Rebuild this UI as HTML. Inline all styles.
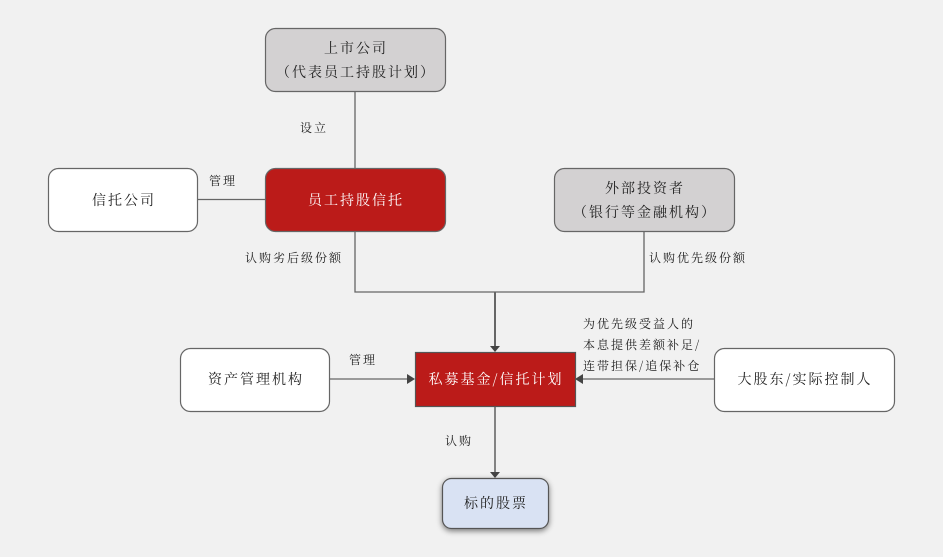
<!DOCTYPE html>
<html><head><meta charset="utf-8"><style>
html,body{margin:0;padding:0;background:#f1f1f1;}
svg{display:block;}
text{font-family:"Noto Serif CJK SC","Liberation Serif",serif;letter-spacing:2px;}
</style></head><body>
<svg width="943" height="557" viewBox="0 0 943 557" xmlns="http://www.w3.org/2000/svg">
<defs>
<filter id="sh" x="-20%" y="-20%" width="140%" height="150%">
<feGaussianBlur in="SourceAlpha" stdDeviation="3"/>
<feOffset dx="0" dy="2"/>
<feComponentTransfer><feFuncA type="linear" slope="0.5"/></feComponentTransfer>
<feMerge><feMergeNode/><feMergeNode in="SourceGraphic"/></feMerge>
</filter>
</defs>
<rect width="943" height="557" fill="#f1f1f1"/>

<!-- connectors -->
<g stroke="#666" stroke-width="1.3" fill="none">
<line x1="355" y1="91" x2="355" y2="168"/>
<line x1="197" y1="199.5" x2="265" y2="199.5"/>
<polyline points="355,231 355,292 644,292 644,231"/>
<line x1="329" y1="379" x2="408" y2="379"/>
<line x1="714" y1="379" x2="582" y2="379"/>
</g>
<line x1="495" y1="292" x2="495" y2="346" stroke="#666" stroke-width="2"/>
<line x1="495" y1="406" x2="495" y2="472" stroke="#777" stroke-width="1.8"/>
<g fill="#444">
<polygon points="490,346 500,346 495,352"/>
<polygon points="490,472 500,472 495,478"/>
<polygon points="407,374 407,384 415,379"/>
<polygon points="583,374 583,384 575,379"/>
</g>

<!-- boxes -->
<rect x="265.5" y="28.5" width="180" height="63" rx="10" fill="#d3d1d2" stroke="#666" stroke-width="1.2"/>
<rect x="265.5" y="168.5" width="180" height="63" rx="10" fill="#bb1b19" stroke="#666" stroke-width="1.2"/>
<rect x="48.5" y="168.5" width="149" height="63" rx="10" fill="#ffffff" stroke="#666" stroke-width="1.2"/>
<rect x="554.5" y="168.5" width="180" height="63" rx="10" fill="#d3d1d2" stroke="#666" stroke-width="1.2"/>
<rect x="415.5" y="352.5" width="160" height="54" fill="#bb1b19" stroke="#555" stroke-width="1.2"/>
<rect x="180.5" y="348.5" width="149" height="63" rx="10" fill="#ffffff" stroke="#666" stroke-width="1.2"/>
<rect x="714.5" y="348.5" width="180" height="63" rx="10" fill="#ffffff" stroke="#666" stroke-width="1.2"/>
<rect x="442.5" y="478.5" width="106" height="50" rx="9" fill="#d9e2f3" stroke="#555" stroke-width="1.2" filter="url(#sh)"/>

<!-- box text -->
<g font-size="14" fill="#222" text-anchor="middle">
<text x="356" y="53">上市公司</text>
<text x="356" y="77">（代表员工持股计划）</text>
<text x="356" y="205" fill="#fff">员工持股信托</text>
<text x="124" y="205">信托公司</text>
<text x="645" y="193">外部投资者</text>
<text x="645" y="217">（银行等金融机构）</text>
<text x="496" y="384" fill="#fff">私募基金/信托计划</text>
<text x="256" y="384">资产管理机构</text>
<text x="805" y="384">大股东/实际控制人</text>
<text x="496" y="508">标的股票</text>
</g>

<!-- labels -->
<g font-size="12" fill="#222">
<text x="300" y="132">设立</text>
<text x="209" y="185">管理</text>
<text x="245" y="262">认购劣后级份额</text>
<text x="649" y="262">认购优先级份额</text>
<text x="349" y="364">管理</text>
<text x="583" y="328">为优先级受益人的</text>
<text x="583" y="349">本息提供差额补足/</text>
<text x="583" y="370">连带担保/追保补仓</text>
<text x="445" y="445">认购</text>
</g>
</svg>
</body></html>
